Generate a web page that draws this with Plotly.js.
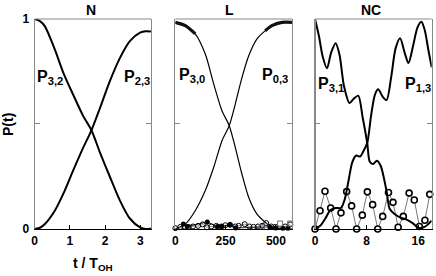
<!DOCTYPE html>
<html>
<head>
<meta charset="utf-8">
<script src="https://cdn.plot.ly/plotly-3.0.1.min.js"></script>
<style>html,body{margin:0;padding:0;background:#fff;}#chart{width:436px;height:276px;}</style>
</head>
<body>
<div id="chart"></div>
<script>
// ---- Panel N ----
var tN = [0, 0.15, 0.29, 0.57, 0.81, 1.09, 1.37, 1.61, 1.85, 2.13, 2.42, 2.7, 2.99, 3.15, 3.3];
var P32 = [1.0, 0.99, 0.965, 0.855, 0.745, 0.64, 0.54, 0.47, 0.365, 0.25, 0.135, 0.05, 0.008, 0.0, 0.003];
var P23 = [0.0, 0.006, 0.024, 0.087, 0.167, 0.278, 0.385, 0.47, 0.575, 0.703, 0.815, 0.895, 0.935, 0.942, 0.94];
var tickN = [0, 1, 2, 3];

// ---- Panel L ----
var tL = [0, 50, 99, 149, 191, 232, 268, 298, 331, 365, 406, 447, 480, 530, 580];
var P30 = [0.984, 0.968, 0.929, 0.833, 0.69, 0.563, 0.492, 0.389, 0.262, 0.15, 0.071, 0.032, 0.008, 0.0, 0.0];
var P03 = [0.0, 0.024, 0.087, 0.183, 0.294, 0.42, 0.492, 0.595, 0.72, 0.825, 0.905, 0.944, 0.968, 0.984, 0.984];
var tLopen = [0, 25, 45, 66, 88, 113, 136, 157, 179, 204, 229, 249, 272, 298, 315, 345, 368, 389, 411, 431, 452, 477, 497, 546, 571];
var PLopen = [0.004, 0.01, 0.012, 0.01, 0.012, 0.015, 0.022, 0.008, 0.012, 0.015, 0.012, 0.018, 0.02, 0.012, 0.015, 0.023, 0.012, 0.01, 0.012, 0.015, 0.028, 0.012, 0.01, 0.012, 0.022];
var tLfill = [40, 60, 159, 210, 230, 272, 300, 470, 500, 535, 560];
var PLfill = [0.024, 0.012, 0.033, 0.012, 0.012, 0.02, 0.005, 0.01, 0.005, 0.003, 0.003];
var tLsq = [430, 521, 571];
var PLsq = [0.01, 0.026, 0.026];
var tickL = [0, 250, 500];

// ---- Panel NC ----
var tNC31 = [0, 0.6, 1.2, 1.85, 2.5, 3.2, 3.8, 4.5, 5.35, 6.0, 6.7, 7.4, 8.1, 8.5, 9.0, 9.6, 10.2, 11.1, 11.6, 12.4, 13.2, 14.2, 15.2, 16.1, 17.0, 18.1];
var P31 = [1.0, 0.92, 0.82, 0.765, 0.84, 0.885, 0.83, 0.68, 0.6, 0.62, 0.635, 0.53, 0.41, 0.32, 0.31, 0.325, 0.3, 0.18, 0.095, 0.07, 0.055, 0.045, 0.027, 0.005, 0.01, 0.04];
var tNC13 = [0, 0.8, 1.6, 2.4, 3.2, 4.0, 4.6, 5.2, 5.8, 6.4, 7.0, 7.5, 8.1, 8.7, 9.3, 9.8, 10.5, 11.1, 11.8, 12.5, 13.2, 13.9, 14.5, 15.2, 15.9, 16.5, 17.0, 17.6, 18.1];
var P13 = [0.0, 0.015, 0.05, 0.09, 0.1, 0.1, 0.14, 0.23, 0.32, 0.35, 0.345, 0.37, 0.41, 0.54, 0.64, 0.665, 0.63, 0.614, 0.72, 0.86, 0.908, 0.84, 0.79, 0.87, 0.96, 0.987, 0.95, 0.85, 0.77];
var tNCm = [0, 0.78, 1.55, 2.43, 3.26, 4.03, 4.91, 5.68, 6.46, 7.34, 8.12, 8.94, 9.73, 10.5, 11.4, 12.1, 12.9, 13.7, 14.6, 15.4, 16.2, 17.05, 17.8];
var PNCm = [0, 0.087, 0.18, 0.1, 0.0, 0.077, 0.178, 0.11, 0.0, 0.066, 0.177, 0.116, 0.0, 0.06, 0.174, 0.127, 0.008, 0.06, 0.171, 0.138, 0.012, 0.042, 0.165];
var tickNC = [0, 8, 16];
var tickY = [0, 1];

var FONT = 'Liberation Sans, Arial, Helvetica, sans-serif';

function line(x, y, xa, ya, w, col) {
  return {x: x, y: y, xaxis: xa, yaxis: ya, type: 'scatter', mode: 'lines',
          line: {color: col || '#000', width: w, shape: 'spline', smoothing: 0.8},
          hoverinfo: 'skip', showlegend: false};
}

var data = [
  line(tN, P32, 'x', 'y', 2),
  line(tN, P23, 'x', 'y', 2),
  line(tL, P30, 'x2', 'y2', 1.2),
  line(tL, P03, 'x2', 'y2', 1.2),
  line(tL.slice(0, 3), P30.slice(0, 3), 'x2', 'y2', 3.2, '#111'),
  line(tL.slice(11), P03.slice(11), 'x2', 'y2', 3.2, '#111'),
  {x: tLopen, y: PLopen, xaxis: 'x2', yaxis: 'y2', type: 'scatter', mode: 'lines+markers',
   line: {color: '#777', width: 0.8},
   marker: {symbol: 'circle-open', size: 5, color: '#000', line: {width: 1, color: '#000'}},
   cliponaxis: false, showlegend: false, hoverinfo: 'skip'},
  {x: tLfill, y: PLfill, xaxis: 'x2', yaxis: 'y2', type: 'scatter', mode: 'lines+markers',
   line: {color: '#000', width: 0.8},
   marker: {symbol: 'circle', size: 5, color: '#000'},
   cliponaxis: false, showlegend: false, hoverinfo: 'skip'},
  {x: tLsq, y: PLsq, xaxis: 'x2', yaxis: 'y2', type: 'scatter', mode: 'markers',
   marker: {symbol: 'square-open', size: 5, color: '#666', line: {width: 1, color: '#666'}},
   cliponaxis: false, showlegend: false, hoverinfo: 'skip'},
  {x: tNCm, y: PNCm, xaxis: 'x3', yaxis: 'y3', type: 'scatter', mode: 'lines+markers',
   line: {color: '#777', width: 1},
   marker: {symbol: 'circle', size: 6, color: '#fff', line: {width: 1.6, color: '#000'}},
   cliponaxis: false, showlegend: false, hoverinfo: 'skip'},
  line(tNC31, P31, 'x3', 'y3', 2),
  line(tNC13, P13, 'x3', 'y3', 2)
];

var yDom = [0.1703, 0.9312];
function xax(dom, rng, ticks) {
  return {domain: dom, range: rng, showline: true, linecolor: '#000', linewidth: 1.2,
          mirror: false, ticks: 'inside', ticklen: 4, tickwidth: 1, tickcolor: '#000',
          tickvals: ticks, ticktext: ticks.map(String), showgrid: false, zeroline: false,
          tickfont: {family: FONT, size: 12, weight: 'bold', color: '#000'}, fixedrange: true};
}
function yax(anchor, labels) {
  return {domain: yDom, range: [0, 1], anchor: anchor, showline: true, linecolor: '#888', linewidth: 1,
          mirror: 'ticks', ticks: 'inside', ticklen: 5, tickwidth: 1, tickcolor: '#888',
          tickvals: tickY, ticktext: tickY.map(String), showticklabels: labels,
          minor: {tickvals: [0.5], ticks: 'inside', ticklen: 5, tickwidth: 1, tickcolor: '#888', showgrid: false},
          showgrid: false, zeroline: false, ticklabelstandoff: 2,
          tickfont: {family: FONT, size: 12, weight: 'bold', color: '#000'}, fixedrange: true};
}

function ann(px, py, text, size, extra) {
  var a = {x: px / 436, y: 1 - py / 276, xref: 'paper', yref: 'paper', text: text, showarrow: false,
           font: {family: FONT, size: size, weight: 'bold', color: '#000'}, xanchor: 'center', yanchor: 'middle'};
  for (var k in extra) a[k] = extra[k];
  return a;
}

var layout = {
  width: 436, height: 276,
  margin: {l: 0, r: 0, t: 0, b: 0},
  paper_bgcolor: '#fff', plot_bgcolor: '#fff',
  showlegend: false,
  xaxis: xax([0.0796, 0.3463], [0, 3.3], tickN),
  yaxis: yax('x', true),
  xaxis2: xax([0.4021, 0.6697], [0, 580], tickL),
  yaxis2: yax('x2', false),
  xaxis3: xax([0.7225, 0.9901], [0, 18.1], tickNC),
  yaxis3: yax('x3', false),
  shapes: [
    {type: 'line', xref: 'x domain', yref: 'y domain', x0: 0, x1: 1, y0: 1, y1: 1, line: {color: '#888', width: 1}},
    {type: 'line', xref: 'x2 domain', yref: 'y2 domain', x0: 0, x1: 1, y0: 1, y1: 1, line: {color: '#888', width: 1}},
    {type: 'line', xref: 'x3 domain', yref: 'y3 domain', x0: 0, x1: 1, y0: 1, y1: 1, line: {color: '#888', width: 1}},
    {type: 'line', xref: 'x3 domain', yref: 'y3 domain', x0: 0, x1: 0, y0: 0, y1: 1, line: {color: '#888', width: 2}}
  ],
  annotations: [
    ann(91, 10, 'N', 14),
    ann(230, 10, 'L', 14),
    ann(371, 10, 'NC', 14),
    ann(8, 125, 'P(t)', 14, {textangle: -90}),
    ann(93, 264, 't / T<sub>OH</sub>', 14),
    ann(35, 78, 'P<sub>3,2</sub>', 16, {xanchor: 'left'}),
    ann(122, 78, 'P<sub>2,3</sub>', 16, {xanchor: 'left'}),
    ann(177, 75, 'P<sub>3,0</sub>', 16, {xanchor: 'left'}),
    ann(260, 75, 'P<sub>0,3</sub>', 16, {xanchor: 'left'}),
    ann(316, 84, 'P<sub>3,1</sub>', 16, {xanchor: 'left'}),
    ann(403, 84, 'P<sub>1,3</sub>', 16, {xanchor: 'left'})
  ]
};

Plotly.newPlot('chart', data, layout, {staticPlot: true, displayModeBar: false});
</script>
</body>
</html>
